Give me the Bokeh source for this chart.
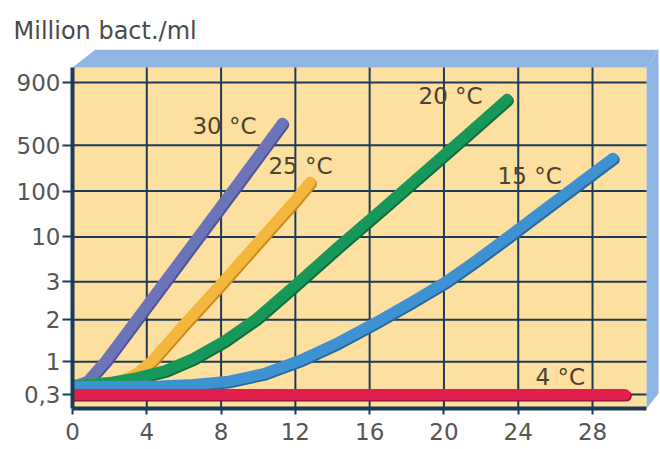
from bokeh.plotting import figure
from bokeh.models import Range1d, FixedTicker, Label
from bokeh.core.properties import value
from bokeh.embed import file_html
from bokeh.resources import INLINE

# ---------------- data ----------------
y_tick_labels = ["0,3", "1", "2", "3", "10", "100", "500", "900"]
# level of each tick on the chart's (non-uniform) vertical scale
y_tick_levels = [14, 47, 89, 127, 172, 218, 264, 327]
x_ticks = [0, 4, 8, 12, 16, 20, 24, 28]

hours_30 = [0, 0.8, 1.8, 3.0, 5.0, 7.0, 9.0, 11.3]
level_30 = [22, 27, 48, 78, 128, 178, 228, 286]

hours_25 = [0, 1.5, 2.6, 3.4, 4.3, 6.0, 8.0, 10.0, 12.0, 12.8]
level_25 = [23, 25, 28, 34, 48, 84, 125, 167, 209, 227]

hours_20 = [0, 2.0, 3.5, 5.0, 6.5, 8.2, 9.9, 12.0, 14.3, 16.6, 19.0, 21.2, 23.4]
level_20 = [23, 26, 31, 38, 50, 68, 90, 124, 162, 199, 238, 274, 310]

hours_15 = [0, 3.0, 4.7, 6.5, 8.3, 10.3, 12.2, 14.3, 16.3, 18.2, 20.1, 21.7, 23.3, 25.0, 26.8, 29.1]
level_15 = [22, 22, 22.5, 24, 27, 35, 48, 66, 86, 106, 127, 148, 170, 194, 219, 251]

hours_4 = [0, 29.75]
level_4 = [14, 14]

series = [
    ("30 °C", hours_30, level_30, "#6b74b8", "#4c5496"),
    ("25 °C", hours_25, level_25, "#f5b63e", "#c98a1e"),
    ("20 °C", hours_20, level_20, "#17985a", "#0d6e3e"),
    ("15 °C", hours_15, level_15, "#3f92d2", "#27689e"),
    ("4 °C", hours_4, level_4, "#e11f4c", "#9c1434"),
]

label_texts = ["30 °C", "25 °C", "20 °C", "15 °C", "4 °C"]
label_hours = [6.46, 10.55, 18.63, 22.89, 24.93]
label_levels = [283, 243, 313, 233, 32]

# ---------------- geometry of the drawing box ----------------
X_END = 31.66      # x range end (h)
X_BOX = 30.91      # right edge of the yellow plot area
X_OUT = 31.55      # outer edge of 3-D frame
SLANT = 1.24
Y_TOP = 342        # top of the yellow plot area
Y_MAX = 360

NAVY = "#1d3a57"
FONT = "DejaVu Sans"

p = figure(width=660, height=449, output_backend="svg", toolbar_location=None,
           x_range=Range1d(0, X_END), y_range=Range1d(0, Y_MAX),
           min_border_left=72, min_border_right=0, min_border_top=49,
           min_border_bottom=41)
p.outline_line_color = None
p.background_fill_color = "white"
p.border_fill_color = "white"
p.xgrid.visible = False
p.ygrid.visible = False

# title
p.title.text = "Million bact./ml"
p.title.text_font = FONT
p.title.text_font_size = "24px"
p.title.text_font_style = "normal"
p.title.text_color = "#4a4a4a"
p.title.align = "left"
p.title.offset = -59
p.title.standoff = 9

# 3-D frame
p.quad(left=0, right=X_BOX, bottom=0, top=Y_TOP, fill_color="#fddf9f", line_color=None)
p.patch(x=[0, X_BOX, X_OUT, SLANT], y=[Y_TOP, Y_TOP, Y_MAX, Y_MAX],
        fill_color="#8fb6e3", line_color=None)
p.patch(x=[X_BOX, X_BOX, X_OUT, X_OUT], y=[0, Y_TOP, Y_MAX, 15],
        fill_color="#8fb6e3", line_color=None)

# grid
vx = [t for t in x_ticks if t > 0]
p.segment(x0=vx, y0=[0] * len(vx), x1=vx, y1=[Y_TOP] * len(vx),
          line_color=NAVY, line_width=2)
p.segment(x0=[0] * len(y_tick_levels), y0=y_tick_levels,
          x1=[X_BOX] * len(y_tick_levels), y1=y_tick_levels,
          line_color=NAVY, line_width=2)

# curves
for name, hx, ly, col, dark in series:
    p.line([h + 0.07 for h in hx], [v - 1.5 for v in ly], line_color=dark,
           line_width=11, line_cap="round", line_join="round")
    p.line(hx, ly, line_color=col, line_width=11, line_cap="round", line_join="round")

p.text(x=label_hours, y=label_levels, text=label_texts,
       text_font=value(FONT), text_font_size="23px", text_color="#4d4230",
       text_align="left", text_baseline="middle")

# axes
xa = p.xaxis[0]
xa.ticker = FixedTicker(ticks=x_ticks)
xa.bounds = (0, X_BOX)
xa.axis_line_color = NAVY
xa.axis_line_width = 4
xa.major_tick_line_color = NAVY
xa.major_tick_line_width = 2
xa.major_tick_in = 0
xa.major_tick_out = 6
xa.minor_tick_line_color = None
xa.major_label_standoff = 8
xa.major_label_text_font = FONT
xa.major_label_text_font_size = "23px"
xa.major_label_text_color = "#555555"

ya = p.yaxis[0]
ya.ticker = FixedTicker(ticks=y_tick_levels)
ya.major_label_overrides = {lv: lb for lv, lb in zip(y_tick_levels, y_tick_labels)}
ya.bounds = (0, Y_TOP)
ya.axis_line_color = NAVY
ya.axis_line_width = 4
ya.major_tick_line_color = NAVY
ya.major_tick_line_width = 2
ya.major_tick_in = 0
ya.major_tick_out = 10
ya.minor_tick_line_color = None
ya.major_label_standoff = 2
ya.major_label_text_font = FONT
ya.major_label_text_font_size = "23px"
ya.major_label_text_color = "#555555"

p.add_layout(Label(x=30.45, y=-14, text="h", text_font=FONT, text_font_size="23px",
                   text_color="#555555", text_align="center", text_baseline="top"))

open("out.html", "w").write(file_html(p, INLINE))
